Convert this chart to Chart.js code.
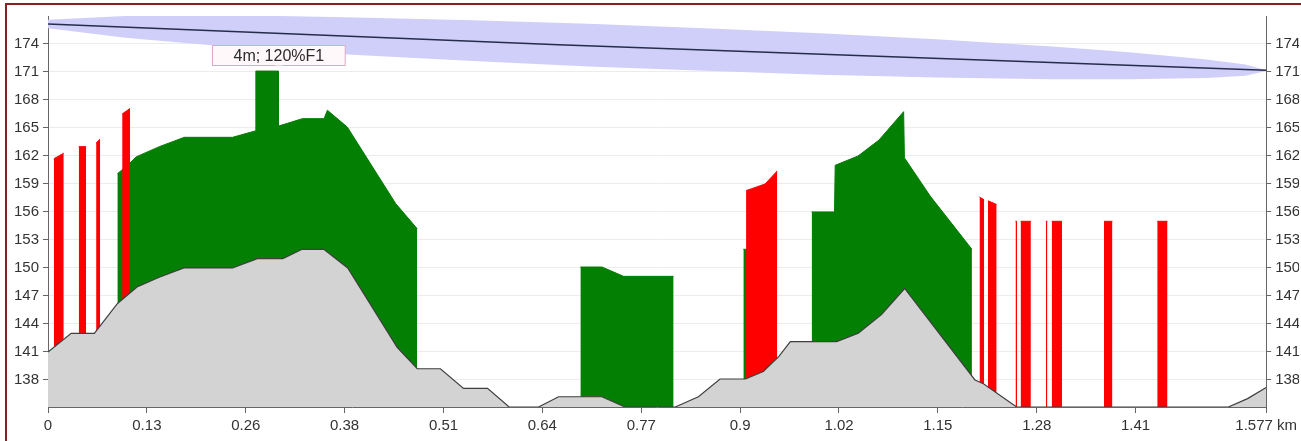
<!DOCTYPE html>
<html>
<head>
<meta charset="utf-8">
<title>Perfil del enlace</title>
<script src="https://cdn.jsdelivr.net/npm/chart.js@4.4.1/dist/chart.umd.min.js"></script>
<style>
  html, body { margin: 0; padding: 0; background: #fff; }
  #wrap { position: relative; width: 1301px; height: 441px; overflow: hidden; }
  #frame { position: absolute; left: 5px; top: 3px; width: 1400px; height: 500px;
           border-left: 2px solid #8a1f1f; border-top: 2px solid #8a1f1f; pointer-events: none; }
</style>
</head>
<body>
<div id="wrap">
  <canvas id="perfil" width="1301" height="441"></canvas>
  <div id="frame"></div>
</div>
<script>
// ejes
const xTicks = [0, 0.128, 0.256, 0.384, 0.512, 0.64, 0.768, 0.896, 1.024, 1.152, 1.28, 1.408, 1.577];
const xTickLabels = ['0', '0.13', '0.26', '0.38', '0.51', '0.64', '0.77', '0.9', '1.02', '1.15', '1.28', '1.41', '1.577 km'];
const yTicks = [138, 141, 144, 147, 150, 153, 156, 159, 162, 165, 168, 171, 174];

// terreno [km, m]
const terreno = [
  [0, 141.0], [0.030, 143.0], [0.060, 143.0], [0.090, 146.2], [0.116, 148.0], [0.144, 149.0],
  [0.176, 150.0], [0.239, 150.0], [0.271, 151.0], [0.304, 151.0], [0.329, 152.0], [0.357, 152.0],
  [0.388, 150.0], [0.452, 141.5], [0.478, 139.2], [0.508, 139.2], [0.538, 137.1], [0.569, 137.1],
  [0.597, 135.1], [0.635, 135.1], [0.661, 136.2], [0.717, 136.2], [0.747, 135.1], [0.812, 135.1],
  [0.842, 136.2], [0.870, 138.1], [0.903, 138.1], [0.926, 138.9], [0.946, 140.5], [0.961, 142.1],
  [1.021, 142.1], [1.049, 143.0], [1.079, 145.0], [1.109, 147.8], [1.200, 138.0], [1.211, 137.6],
  [1.254, 135.1], [1.528, 135.1], [1.553, 136.0], [1.577, 137.2]
];

// linea de vista y zona de Fresnel
const visual = [[0, 176.14], [0.661, 173.92], [1.577, 171.18]];
const fresnelArriba = [
  [0, 176.6], [0.1, 177.0], [0.2, 177.1], [0.3, 177.0], [0.4, 176.85], [0.55, 176.55],
  [0.7, 176.16], [0.85, 175.7], [1.0, 175.15], [1.15, 174.5], [1.3, 173.73], [1.4, 173.11],
  [1.5, 172.34], [1.55, 171.79], [1.577, 171.2]
];
const fresnelAbajo = [
  [0, 175.7], [0.1, 174.66], [0.2, 173.94], [0.3, 173.35], [0.4, 172.83], [0.55, 172.17],
  [0.7, 171.6], [0.85, 171.12], [1.0, 170.71], [1.15, 170.42], [1.3, 170.23], [1.4, 170.21],
  [1.5, 170.36], [1.55, 170.59], [1.577, 171.1]
];

// zonas verdes
const verdeA = [
  [0.0898, 160.1], [0.1032, 161.0], [0.1140, 161.9], [0.1441, 163.0], [0.1764, 164.0], [0.2389, 164.0],
  [0.2691, 164.7], [0.2691, 171.1], [0.2983, 171.1], [0.2983, 165.2], [0.3294, 166.0], [0.3574, 166.0],
  [0.3617, 166.9], [0.3875, 165.1], [0.4501, 156.9], [0.4780, 154.2]
];
const verdeB = [[0.6892, 150.1], [0.7172, 150.1], [0.7452, 149.1], [0.8099, 149.1]];
const verdeC = [[0.9002, 152.0], [0.9100, 152.0]];
const verdeD = [
  [0.9886, 156.0], [1.0182, 156.0], [1.0191, 161.0], [1.0487, 162.0], [1.0757, 163.7],
  [1.1077, 166.75], [1.1087, 161.8], [1.1421, 157.7], [1.1961, 152.0]
];

// barras rojas
const rojos = [
  [[0.0075, 161.7], [0.0204, 162.3]],
  [[0.0398, 163.0], [0.0494, 163.0]],
  [[0.0623, 163.4], [0.0675, 163.8]],
  [[0.0960, 166.5], [0.1063, 167.1]],
  [[0.9037, 158.3], [0.9111, 158.5], [0.9283, 159.0], [0.9441, 160.4]],
  [[1.2059, 157.6], [1.2119, 157.3]],
  [[1.2168, 157.2], [1.2281, 156.8]],
  [[1.2525, 155.0], [1.2545, 155.0]],
  [[1.2591, 155.0], [1.2724, 155.0]],
  [[1.2918, 155.0], [1.2938, 155.0]],
  [[1.2994, 155.0], [1.3127, 155.0]],
  [[1.3670, 155.0], [1.3780, 155.0]],
  [[1.4360, 155.0], [1.4493, 155.0]]
];

const nota = { texto: '4m; 120%F1', x: 0.2983, y: 171.1 };

const pts = arr => arr.map(p => ({ x: p[0], y: p[1] }));

function zona(arr, color, orden) {
  return {
    data: pts(arr), backgroundColor: color, borderColor: color, borderWidth: 1,
    fill: 'start', pointRadius: 0, order: orden
  };
}

const datasets = [
  { data: pts(terreno), backgroundColor: '#d3d3d3', borderColor: '#3f3f3f', borderWidth: 1.2,
    fill: 'start', pointRadius: 0, order: 0 },
  ...rojos.map(r => zona(r, '#ff0000', 1)),
  zona(verdeA, '#037f03', 2),
  zona(verdeB, '#037f03', 2),
  zona(verdeC, '#037f03', 2),
  zona(verdeD, '#037f03', 2),
  { data: pts(visual), borderColor: '#262d4a', borderWidth: 1.5, fill: false, pointRadius: 0, order: 3 },
  { data: pts(fresnelArriba), backgroundColor: '#cfcffa', borderWidth: 0, fill: '+1', pointRadius: 0, order: 4 },
  { data: pts(fresnelAbajo), borderWidth: 0, fill: false, pointRadius: 0, order: 4 }
];

const notaPlugin = {
  id: 'nota',
  afterDatasetsDraw(chart) {
    const { ctx, scales } = chart;
    const px = scales.x.getPixelForValue(nota.x);
    const py = scales.y.getPixelForValue(nota.y);
    ctx.save();
    ctx.font = '16px "Liberation Sans", Arial, sans-serif';
    const w = ctx.measureText(nota.texto).width + 42;
    const h = 20;
    const left = Math.round(px - w / 2) + 0.5;
    const top = Math.round(py - 6 - h) + 0.5;
    ctx.fillStyle = '#fff8fb';
    ctx.strokeStyle = '#dca8c8';
    ctx.lineWidth = 1;
    ctx.fillRect(left, top, w, h);
    ctx.strokeRect(left, top, w, h);
    ctx.beginPath();
    ctx.moveTo(px - 4, top + h);
    ctx.lineTo(px, top + h + 4);
    ctx.lineTo(px + 4, top + h);
    ctx.fill();
    ctx.fillStyle = '#2a2a2a';
    ctx.textAlign = 'center';
    ctx.textBaseline = 'middle';
    ctx.fillText(nota.texto, left + w / 2, top + h / 2 + 1);
    ctx.restore();
  }
};

const fuente = { family: '"Liberation Sans", Arial, sans-serif', size: 15 };
const ejeY = (pos, ancho, rejilla) => ({
  type: 'linear', position: pos, min: 135.1, max: 177.0,
  afterBuildTicks: axis => { axis.ticks = yTicks.map(v => ({ value: v })); },
  afterFit: s => { s.width = ancho; },
  border: { color: '#666', width: 1 },
  grid: { color: '#ececec', drawOnChartArea: rejilla, tickLength: 5, tickColor: '#666' },
  ticks: { color: '#333', font: fuente, padding: 4 }
});

new Chart(document.getElementById('perfil'), {
  type: 'line',
  data: { datasets },
  options: {
    responsive: false,
    animation: false,
    layout: { padding: { top: 16, left: 0, right: 0, bottom: 0 } },
    plugins: { legend: { display: false }, tooltip: { enabled: false } },
    scales: {
      x: {
        type: 'linear', min: 0, max: 1.577,
        afterBuildTicks: axis => { axis.ticks = xTicks.map(v => ({ value: v })); },
        afterFit: s => { s.height = 34; },
        border: { color: '#666', width: 1 },
        grid: { drawOnChartArea: false, tickLength: 6, tickColor: '#666' },
        ticks: { color: '#333', font: fuente, padding: 4, maxRotation: 0, autoSkip: false,
                 callback: (v, i) => xTickLabels[i] }
      },
      y: ejeY('left', 48, true),
      y2: ejeY('right', 33, false)
    }
  },
  plugins: [notaPlugin]
});
</script>
</body>
</html>
